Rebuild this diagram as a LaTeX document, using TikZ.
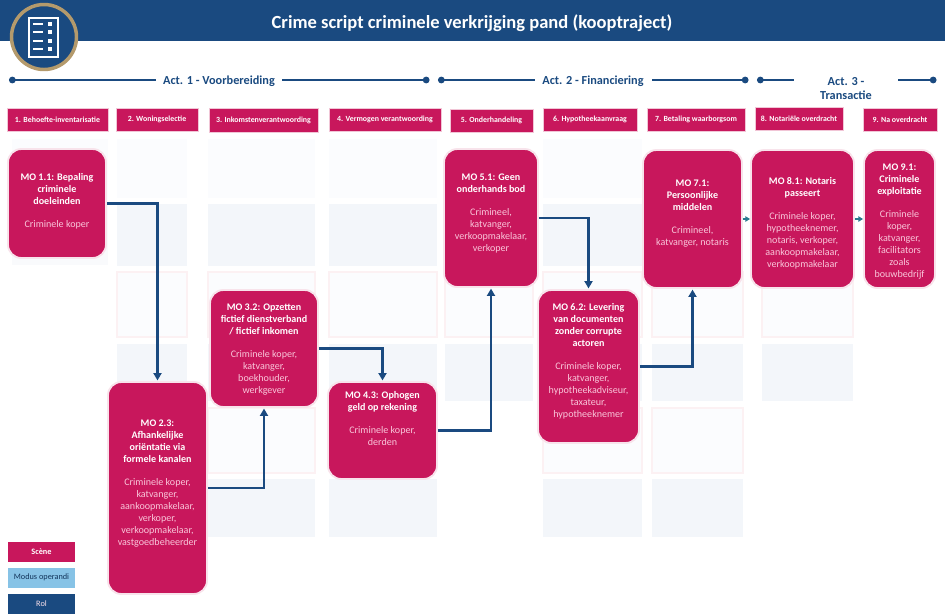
\documentclass[tikz,border=0pt]{standalone}
\usepackage{fontspec}
\setmainfont{Carlito}
\usetikzlibrary{arrows.meta,positioning}
\definecolor{navy}{HTML}{1A4A80}
\definecolor{crim}{HTML}{C8175C}
\definecolor{rolepink}{HTML}{F9C6DA}
\definecolor{tan}{HTML}{B49A6C}
\definecolor{panelA}{HTML}{FBFCFE}
\definecolor{panelB}{HTML}{F3F6FA}
\definecolor{panelC}{HTML}{F9FAFC}
\definecolor{panelR}{HTML}{FCF1F3}
\definecolor{teal}{HTML}{2A7A8F}
\definecolor{legblue}{HTML}{87C3E6}
\newdimen\pxu \pxu=0.75pt
% width, height, top offset, title, roles
\newcommand{\motext}[5]{\parbox[c][#2\pxu][t]{#1\pxu}{\centering\fontsize{7.55}{9}\selectfont\vspace*{#3\pxu}%
  {\bfseries\color{white}#4\par}\vspace{8.3pt}{\color{rolepink}#5\par}}}
\tikzset{
  x=0.75pt,y=-0.75pt,
  mobox/.style={fill=crim,draw=crim!12!white,line width=1.4pt,rounded corners=10pt,inner sep=0pt,outer sep=0.7pt},
  scenebox/.style={fill=crim,draw=crim!25!white,line width=0.5pt,inner sep=0pt,text=white,font=\bfseries\fontsize{5.9}{7}\selectfont,align=center},
  legendbox/.style={inner sep=0pt,font=\fontsize{6.2}{7}\selectfont,minimum width=50.25pt,minimum height=15pt},
  acttext/.style={text=navy,font=\bfseries\fontsize{9.2}{11.2}\selectfont,align=center,inner sep=0pt},
  actline/.style={draw=navy,line width=1.4pt},
  flow/.style={draw=navy,line width=1.6pt,-{Triangle[length=5.5pt,width=6pt]},shorten >=0.5pt},
  smallflow/.style={draw=teal,line width=0.8pt,-{Triangle[length=3.5pt,width=4pt]}},
  pa/.style={fill=panelA},
  pb/.style={fill=panelB},
  pc/.style={fill=panelC},
  pr/.style={fill=panelA,draw=panelR,line width=1pt},
}
\begin{document}
\begin{tikzpicture}
\useasboundingbox (0,0) rectangle (945,615);
% faded background panels
\fill[pa] (12,139) rectangle (108,200);
\fill[pc] (12,205) rectangle (108,265);
\foreach \l/\r in {117/187,208/315,329/437,543/642}{
  \fill[pa] (\l,139) rectangle (\r,198);
  \fill[pb] (\l,204) rectangle (\r,266);
}
\foreach \l/\r in {117/187,208/315,329/437,445/533,543/642,652/743,762/853}{
  \draw[pr] (\l,272) rectangle (\r,337);
  \fill[pb] (\l,344) rectangle (\r,401);
}
\foreach \l/\r in {208/315,543/642,652/743}{
  \draw[pr] (\l,408) rectangle (\r,473);
}
\foreach \l/\r in {208/315,329/437,543/642,652/743}{
  \fill[pb] (\l,479) rectangle (\r,537);
}
% header band
\fill[navy] (0,0) rectangle (945,41);
\node[text=white,font=\bfseries\fontsize{13.9}{16}\selectfont,inner sep=0pt] (title) at (472,23) {Crime script criminele verkrijging pand (kooptraject)};
% logo
\draw[draw=tan,fill=navy,line width=2.6pt] (44,37) circle [radius=32.5];
\draw[draw=white,line width=1.5pt] (28.5,17.5) rectangle (57.5,56.5);
\foreach \yy in {24,32,41,49}{
  \draw[white,line width=1.2pt] (33,\yy) -- (43,\yy);
  \fill[white] (48,\yy-2.3) rectangle (52,\yy+2.3);
}
% acts
\node[acttext] (act1) at (219,81) {Act. 1 - Voorbereiding};
\node[acttext] (act2) at (593,81) {Act. 2 - Financiering};
\node[acttext] (act3) at (846,88.5) {Act. 3 -\\Transactie};
\coordinate (a1a) at (9,80); \coordinate (a1b) at (156,80);
\coordinate (a1c) at (282,80); \coordinate (a1d) at (429.5,80);
\coordinate (a2a) at (438,80); \coordinate (a2b) at (535,80);
\coordinate (a2c) at (652,80); \coordinate (a2d) at (748.5,80);
\coordinate (a3a) at (757,80); \coordinate (a3b) at (794,80);
\coordinate (a3c) at (898,80); \coordinate (a3d) at (936.5,80);
\draw[actline,{Circle[length=5pt]}-] (a1a) -- (a1b);
\draw[actline,-{Circle[length=5pt]}] (a1c) -- (a1d);
\draw[actline,{Circle[length=5pt]}-] (a2a) -- (a2b);
\draw[actline,-{Circle[length=5pt]}] (a2c) -- (a2d);
\draw[actline,{Circle[length=5pt]}-] (a3a) -- (a3b);
\draw[actline,-{Circle[length=5pt]}] (a3c) -- (a3d);
% scene headers
\node[scenebox,minimum width=75.75pt,minimum height=17.25pt] (s1) at (57.5,119.5) {1. Behoefte-inventarisatie};
\node[scenebox,minimum width=61.5pt,minimum height=17.25pt] (s2) at (157,119.5) {2. Woningselectie};
\node[scenebox,minimum width=81.75pt,minimum height=18pt] (s3) at (263.5,120) {3. Inkomstenverantwoording};
\node[scenebox,minimum width=84pt,minimum height=17.25pt] (s4) at (385,119.5) {4. Vermogen verantwoording};
\node[scenebox,minimum width=62.25pt,minimum height=17.25pt] (s5) at (491.5,120.5) {5. Onderhandeling};
\node[scenebox,minimum width=70.5pt,minimum height=17.25pt] (s6) at (590,119.5) {6. Hypotheekaanvraag};
\node[scenebox,minimum width=73.5pt,minimum height=17.25pt] (s7) at (696,119.5) {7. Betaling waarborgsom};
\node[scenebox,minimum width=66pt,minimum height=17.25pt] (s8) at (799,119) {8. Notariële overdracht};
\node[scenebox,minimum width=55.5pt,minimum height=17.25pt] (s9) at (900,119.5) {9. Na overdracht};
% modus operandi boxes
\node[mobox] (mo11) at (57,203.5) {\motext{98}{109}{24}{MO 1.1: Bepaling\\criminele\\doeleinden}{Criminele koper}};
\node[mobox] (mo23) at (157.5,488) {\motext{99}{212}{38}{MO 2.3:\\Afhankelijke\\oriëntatie via\\formele kanalen}{Criminele koper,\\katvanger,\\aankoopmakelaar,\\verkoper,\\verkoopmakelaar,\\vastgoedbeheerder}};
\node[mobox] (mo32) at (264,348.5) {\motext{108}{117}{14}{MO 3.2: Opzetten\\fictief dienstverband\\/ fictief inkomen}{Criminele koper,\\katvanger,\\boekhouder,\\werkgever}};
\node[mobox] (mo43) at (382.5,430.5) {\motext{109}{97}{9}{MO 4.3: Ophogen\\geld op rekening}{Criminele koper,\\derden}};
\node[mobox] (mo51) at (491,218) {\motext{94}{138}{25}{MO 5.1: Geen\\onderhands bod}{Crimineel,\\katvanger,\\verkoopmakelaar,\\verkoper}};
\node[mobox] (mo62) at (588.5,366.5) {\motext{101}{153}{13.5}{MO 6.2: Levering\\van documenten\\zonder corrupte\\actoren}{Criminele koper,\\katvanger,\\hypotheekadviseur,\\taxateur,\\hypotheeknemer}};
\node[mobox] (mo71) at (692.5,219) {\motext{99}{138}{30}{MO 7.1:\\Persoonlijke\\middelen}{Crimineel,\\katvanger, notaris}};
\node[mobox] (mo81) at (802.5,219) {\motext{103}{138}{27.5}{MO 8.1: Notaris\\passeert}{Criminele koper,\\hypotheeknemer,\\notaris, verkoper,\\aankoopmakelaar,\\verkoopmakelaar}};
\node[mobox] (mo91) at (899.5,219) {\motext{71}{138}{13.5}{MO 9.1:\\Criminele\\exploitatie}{Criminele\\koper,\\katvanger,\\facilitators\\zoals\\bouwbedrijf}};
% connectors
\draw[flow] (mo11.east) -| (mo23.north);
\draw[flow] (mo23.east) -| (mo32.south);
\draw[flow] (mo32.east) -| (mo43.north);
\draw[flow] (mo43.east) -| (mo51.south);
\draw[flow] (mo51.east) -| (mo62.north);
\draw[flow] (mo62.east) -| (mo71.south);
\draw[smallflow] (mo71.east) -- (mo81.west);
\draw[smallflow] (mo81.east) -- (mo91.west);
% legend
\node[legendbox,fill=crim,text=white,font=\bfseries\fontsize{6.2}{7}\selectfont] (lg1) at (41.5,552) {Scène};
\node[legendbox,fill=legblue,text=navy!70!black] (lg2) at (41.5,577.5) {Modus operandi};
\node[legendbox,fill=navy,text=rolepink!50!white,minimum height=15.5pt] (lg3) at (41.5,604) {Rol};
\end{tikzpicture}
\end{document}
